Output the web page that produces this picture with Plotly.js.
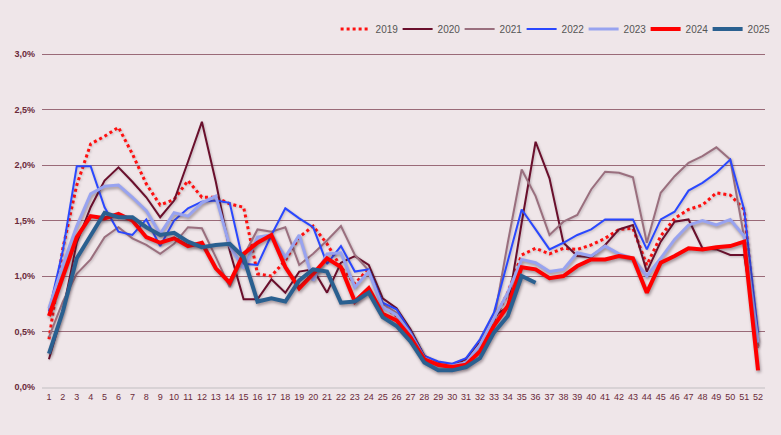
<!DOCTYPE html>
<html>
<head>
<meta charset="utf-8">
<script src="https://cdn.plot.ly/plotly-3.0.1.min.js"></script>
<style>
html,body{margin:0;padding:0;background:#EFE6E9;}
#chart{width:781px;height:435px;}
</style>
</head>
<body>
<div id="chart"></div>
<script>
var weeks = [1,2,3,4,5,6,7,8,9,10,11,12,13,14,15,16,17,18,19,20,21,22,23,24,25,26,27,28,29,30,31,32,33,34,35,36,37,38,39,40,41,42,43,44,45,46,47,48,49,50,51,52];

var y2019 = [0.43,1.25,1.82,2.19,2.26,2.34,2.10,1.83,1.64,1.69,1.86,1.71,1.71,1.65,1.62,1.02,1.00,1.14,1.35,1.45,1.29,1.08,0.93,1.07,0.73,0.64,0.50,0.27,0.20,0.20,0.25,0.40,0.60,0.85,1.19,1.25,1.20,1.25,1.24,1.28,1.34,1.42,1.43,1.10,1.36,1.52,1.60,1.64,1.75,1.73,1.60,0.35];
var y2020 = [0.25,0.68,1.30,1.62,1.86,1.98,1.85,1.71,1.53,1.68,2.03,2.39,1.85,1.23,0.79,0.79,0.97,0.85,1.04,1.06,0.85,1.12,1.18,1.10,0.80,0.71,0.52,0.28,0.22,0.20,0.25,0.40,0.64,0.72,1.48,2.21,1.88,1.30,1.18,1.17,1.28,1.42,1.46,1.04,1.31,1.49,1.51,1.25,1.24,1.19,1.19,0.40];
var y2021 = [0.45,0.77,1.02,1.15,1.35,1.44,1.34,1.28,1.20,1.29,1.44,1.43,1.17,0.90,1.18,1.42,1.40,1.44,1.10,1.20,1.32,1.45,1.19,1.05,0.75,0.67,0.50,0.27,0.21,0.20,0.22,0.38,0.60,1.30,1.96,1.72,1.37,1.49,1.55,1.78,1.94,1.93,1.89,1.30,1.75,1.90,2.02,2.08,2.16,2.05,1.35,0.35];
var y2022 = [0.68,1.23,1.99,1.99,1.62,1.40,1.37,1.51,1.27,1.50,1.61,1.67,1.68,1.66,1.11,1.10,1.37,1.61,1.52,1.44,1.11,1.27,1.04,1.06,0.76,0.70,0.50,0.28,0.23,0.21,0.26,0.43,0.67,1.13,1.60,1.42,1.24,1.30,1.37,1.42,1.51,1.51,1.51,1.24,1.51,1.58,1.77,1.84,1.93,2.05,1.60,0.49];
var y2023 = [0.71,1.10,1.45,1.74,1.81,1.82,1.71,1.59,1.38,1.57,1.54,1.66,1.72,1.27,1.07,1.35,1.37,1.17,1.37,0.96,1.20,1.21,0.90,1.04,0.72,0.65,0.48,0.26,0.20,0.19,0.22,0.38,0.62,0.85,1.15,1.12,1.04,1.06,1.21,1.18,1.27,1.20,1.16,1.00,1.16,1.33,1.46,1.50,1.46,1.51,1.36,0.40];
var y2024 = [0.64,1.00,1.35,1.54,1.52,1.56,1.50,1.35,1.30,1.34,1.27,1.30,1.07,0.94,1.20,1.30,1.37,1.08,0.89,1.02,1.16,1.08,0.77,0.89,0.66,0.60,0.45,0.25,0.20,0.18,0.20,0.32,0.55,0.73,1.08,1.06,0.98,1.00,1.09,1.15,1.15,1.18,1.16,0.85,1.12,1.18,1.25,1.24,1.26,1.27,1.31,0.15];
var y2025 = [0.30,0.68,1.16,1.36,1.57,1.53,1.53,1.44,1.37,1.39,1.31,1.26,1.28,1.29,1.17,0.77,0.80,0.77,0.96,1.06,1.04,0.76,0.77,0.85,0.63,0.55,0.41,0.22,0.15,0.15,0.18,0.26,0.49,0.64,1.00,0.94];

var yTicks = [0,0.5,1.0,1.5,2.0,2.5,3.0];
var yTickLabels = ['0,0%','0,5%','1,0%','1,5%','2,0%','2,5%','3,0%'];

function tr(name, y, color, width, dash) {
  return {
    x: weeks.slice(0, y.length),
    y: y,
    name: name,
    type: 'scatter',
    mode: 'lines',
    line: {color: color, width: width, dash: dash || 'solid'},
    hoverinfo: 'skip'
  };
}

var data = [
  tr('2019', y2019, '#FF1010', 3, 'dot'),
  tr('2020', y2020, '#6A0F2C', 2),
  tr('2021', y2021, '#9A6F7E', 2),
  tr('2022', y2022, '#2A48FF', 2),
  tr('2023', y2023, '#98A3F0', 3),
  tr('2024', y2024, '#FF0000', 4),
  tr('2025', y2025, '#2A6090', 4)
];

var layout = {
  width: 781,
  height: 435,
  paper_bgcolor: '#EFE6E9',
  plot_bgcolor: '#EFE6E9',
  margin: {l: 42, r: 15, t: 53, b: 48},
  showlegend: true,
  legend: {
    orientation: 'h',
    x: 1.005, xanchor: 'right',
    y: 1.115, yanchor: 'top',
    font: {family: 'Liberation Sans, Arial, sans-serif', size: 10, color: '#555555'},
    bgcolor: 'rgba(0,0,0,0)',
    entrywidth: 17,
    entrywidthmode: 'pixels'
  },
  xaxis: {
    type: 'category',
    tickvals: weeks,
    ticktext: weeks.map(String),
    range: [-0.5, 51.5],
    showgrid: false,
    zeroline: false,
    showline: true,
    linecolor: '#D8D2D5',
    linewidth: 2,
    ticks: '',
    tickfont: {family: 'Liberation Sans, Arial, sans-serif', size: 9, color: '#6A2A3A'},
    fixedrange: true
  },
  yaxis: {
    range: [0, 3.01],
    tickmode: 'array',
    tickvals: yTicks,
    ticktext: yTickLabels,
    showgrid: true,
    gridcolor: '#9A6A78',
    gridwidth: 1,
    zeroline: false,
    showline: false,
    ticks: '',
    ticklabelstandoff: 6,
    tickfont: {family: 'Liberation Sans, Arial, sans-serif', size: 9, color: '#6A2A3A', weight: 'bold'},
    fixedrange: true
  }
};

Plotly.newPlot('chart', data, layout, {displayModeBar: false, staticPlot: true}).then(function(gd){
  var traces = gd.querySelectorAll('.scatterlayer .trace');
  traces.forEach(function(t, i){
    var f = (i >= 4) ? 'drop-shadow(1px 2px 1.5px rgba(60,40,50,0.45))' : 'drop-shadow(1px 1px 1px rgba(60,40,50,0.25))';
    t.style.filter = f;
  });
});
</script>
</body>
</html>
